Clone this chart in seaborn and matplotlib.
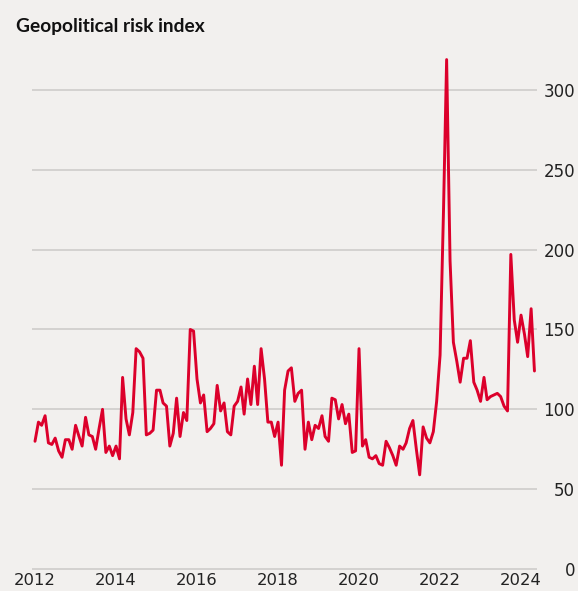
import numpy as np
import pandas as pd
import matplotlib
matplotlib.use("Agg")
import matplotlib.pyplot as plt
import matplotlib.dates as mdates
import seaborn as sns
from matplotlib import font_manager as fm

# ---------------- data ----------------
start_month = "2012-01-01"
gpr = [
    80, 92, 90, 96, 79, 78, 82, 74, 70, 81, 81, 75,          # 2012
    90, 83, 77, 95, 84, 83, 75, 88, 100, 73, 77, 71,         # 2013
    77, 69, 120, 94, 84, 98, 138, 136, 132, 84, 85, 87,      # 2014
    112, 112, 104, 102, 77, 85, 107, 83, 98, 93, 150, 149,   # 2015
    119, 104, 109, 86, 88, 91, 115, 99, 104, 86, 84, 102,    # 2016
    105, 114, 97, 119, 103, 127, 103, 138, 119, 92, 92, 83,  # 2017
    92, 65, 112, 124, 126, 105, 110, 112, 75, 92, 81, 90,    # 2018
    88, 96, 83, 80, 107, 106, 94, 103, 91, 97, 73, 74,       # 2019
    138, 77, 81, 70, 69, 71, 66, 65, 80, 76, 71, 65,         # 2020
    77, 75, 79, 88, 93, 75, 59, 89, 82, 79, 86, 105,         # 2021
    134, 225, 319, 193, 142, 130, 117, 132, 132, 143, 117, 112,  # 2022
    105, 120, 106, 108, 109, 110, 108, 102, 99, 197, 156, 142,   # 2023
    159, 147, 133, 163, 124,                                  # 2024
]
year_ticks = [2012, 2014, 2016, 2018, 2020, 2022, 2024]
y_ticks = [0, 50, 100, 150, 200, 250, 300]
title_text = "Geopolitical risk index"

df = pd.DataFrame({
    "month": pd.date_range(start_month, periods=len(gpr), freq="MS"),
    "gpr": gpr,
})

# ---------------- style ----------------
BG = "#f2f0ee"
RED = "#dc002b"
GRID = "#cfcccb"
TXT = "#222222"

sns.set_theme(style="white")
plt.rcParams["font.family"] = ["DejaVu Sans"]

W, H = 578, 591
fig = plt.figure(figsize=(W / 100, H / 100), dpi=100, facecolor=BG)
ax = fig.add_axes([32 / W, (H - 570) / H, (537 - 32) / W, (570 - 50) / H])
ax.set_facecolor(BG)

sns.lineplot(data=df, x="month", y="gpr", ax=ax, color=RED, linewidth=2.1)

ax.set_ylim(-0.6, 325)
ax.set_xlim(pd.Timestamp("2011-12-05"), pd.Timestamp("2024-05-24"))

ax.set_yticks(y_ticks)
ax.set_yticklabels([str(v) for v in y_ticks])
ax.yaxis.tick_right()
ax.tick_params(axis="y", length=0, pad=27.5, labelsize=12, labelcolor=TXT)
for lab in ax.get_yticklabels():
    lab.set_horizontalalignment("right")

ax.set_xticks([pd.Timestamp(f"{y}-01-01") for y in year_ticks])
ax.set_xticklabels([str(y) for y in year_ticks])
ax.tick_params(axis="x", length=0, pad=2.5, labelsize=11.8, labelcolor=TXT)

ax.grid(axis="y", color=GRID, linewidth=1.2)
ax.grid(axis="x", visible=False)
for s in ax.spines.values():
    s.set_visible(False)
ax.set_xlabel("")
ax.set_ylabel("")
ax.set_axisbelow(True)

# title
names = {f.name for f in fm.fontManager.ttflist}
if "Liberation Sans Narrow" in names:
    tfam = ["Liberation Sans Narrow", "DejaVu Sans"]
else:
    tfam = ["Lato", "DejaVu Sans"]
title = fig.text(16 / W, 1 - 32 / H, title_text, fontweight="bold", fontsize=14,
                 family=tfam, color="#111111", ha="left", va="baseline")
fig.canvas.draw()
w = title.get_window_extent().width
title.set_fontsize(14 * 190 / w)

fig.savefig("out.png", dpi=100, facecolor=BG)
